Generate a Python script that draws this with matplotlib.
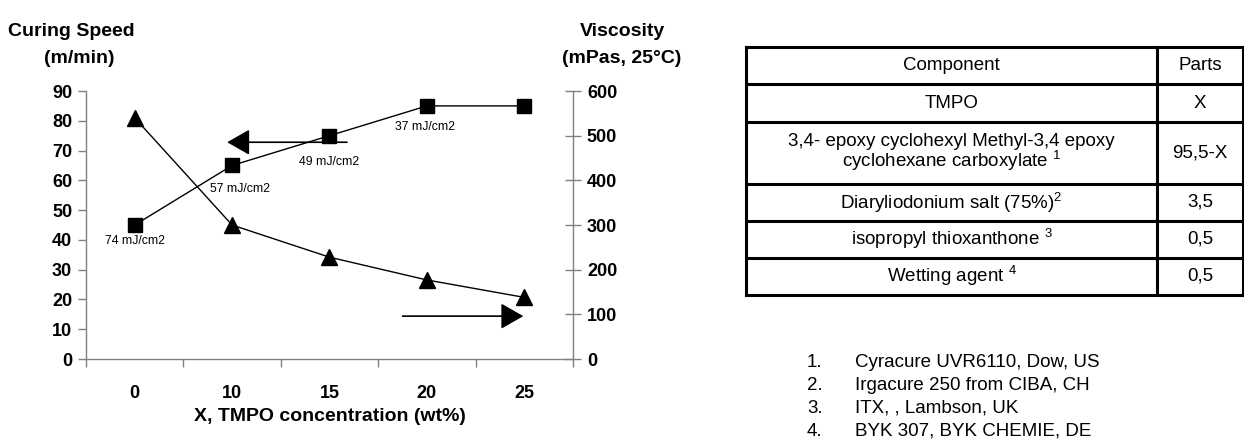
import matplotlib
matplotlib.use("Agg")
import matplotlib.pyplot as plt

plt.rcParams['font.family'] = ['Liberation Sans', 'DejaVu Sans']
plt.rcParams['mathtext.fontset'] = 'custom'
plt.rcParams['mathtext.rm'] = 'Liberation Sans'
plt.rcParams['mathtext.it'] = 'Liberation Sans:italic'
plt.rcParams['mathtext.bf'] = 'Liberation Sans:bold'

# data
categories = ['0', '10', '15', '20', '25']
curing_speed = [45, 65, 75, 85, 85]          # m/min, left axis
viscosity = [540, 300, 228, 177, 138]        # mPas, right axis
dose_labels = ['74 mJ/cm2', '57 mJ/cm2', '49 mJ/cm2', '37 mJ/cm2']
dose_label_pos = [(0.0, 39.5), (1.08, 57.0), (2.0, 66.0), (2.98, 78.0)]

table_header = ['Component', 'Parts']
table_components = ['TMPO',
                    '3,4- epoxy cyclohexyl Methyl-3,4 epoxy\ncyclohexane carboxylate $^1$',
                    'Diaryliodonium salt (75%)$^2$',
                    'isopropyl thioxanthone $^3$',
                    'Wetting agent $^4$']
table_parts = ['X', '95,5-X', '3,5', '0,5', '0,5']
row_heights = [1.0, 1.0, 1.65, 1.0, 0.97, 1.0]

footnotes = ['Cyracure UVR6110, Dow, US',
             'Irgacure 250 from CIBA, CH',
             'ITX, , Lambson, UK',
             'BYK 307, BYK CHEMIE, DE']

fig = plt.figure(figsize=(12.44, 4.44), dpi=100)

# ---------------- chart ----------------
ax = fig.add_axes([0.0691, 0.1914, 0.3915, 0.6036])
ax2 = ax.twinx()
x = range(len(categories))
ax.plot(x, curing_speed, color='black', lw=1.0, marker='s', ms=9.5, zorder=3)
ax2.plot(x, viscosity, color='black', lw=1.0, marker='^', ms=11, zorder=3)

ax.set_xlim(-0.5, len(categories) - 0.5)
ax.set_ylim(0, 90)
ax2.set_ylim(0, 600)
ax.set_yticks(range(0, 91, 10))
ax2.set_yticks(range(0, 601, 100))
ax.set_xticks(list(x))
ax.set_xticklabels(categories)
ax.set_xticks([i - 0.5 for i in range(len(categories) + 1)], minor=True)
ax.tick_params(axis='x', which='major', length=0, pad=19)
ax.tick_params(axis='x', which='minor', length=6, width=1, color='#808080', direction='out')
ax.tick_params(axis='y', length=6, width=1, color='#808080', direction='out', pad=4)
ax2.tick_params(axis='y', length=12, width=1, color='#808080', direction='inout', pad=4)
for a in (ax, ax2):
    for lab in a.get_xticklabels() + a.get_yticklabels():
        lab.set_fontsize(13)
        lab.set_fontweight('bold')
    a.spines['top'].set_visible(False)
    for s in ('left', 'right', 'bottom'):
        a.spines[s].set_color('#808080')
        a.spines[s].set_linewidth(1.0)
ax2.spines['left'].set_visible(False)
ax2.spines['bottom'].set_visible(False)
ax.spines['right'].set_visible(False)

ax.set_xlabel('X, TMPO concentration (wt%)', fontsize=14, fontweight='bold', labelpad=4)

for txt, (tx, ty) in zip(dose_labels, dose_label_pos):
    ax.text(tx, ty, txt, fontsize=8.8, ha='center', va='center')

# direction arrows
ax.annotate('', xy=(0.95, 72.8), xytext=(2.18, 72.8),
            arrowprops=dict(arrowstyle='-|>,head_length=1.4,head_width=0.8',
                            color='black', lw=1.2, shrinkA=0, shrinkB=0))
ax.annotate('', xy=(3.99, 14.4), xytext=(2.75, 14.4),
            arrowprops=dict(arrowstyle='-|>,head_length=1.4,head_width=0.8',
                            color='black', lw=1.2, shrinkA=0, shrinkB=0))

fig.text(0.0065, 0.93, 'Curing Speed', fontsize=14, fontweight='bold', ha='left', va='center')
fig.text(0.0635, 0.868, '(m/min)', fontsize=14, fontweight='bold', ha='center', va='center')
fig.text(0.500, 0.93, 'Viscosity', fontsize=14, fontweight='bold', ha='center', va='center')
fig.text(0.500, 0.868, '(mPas, 25°C)', fontsize=14, fontweight='bold', ha='center', va='center')

# ---------------- table ----------------
tax = fig.add_axes([746 / 1244, 149 / 444, 497 / 1244, 248 / 444])
total = sum(row_heights)
tax.set_xlim(0, 1)
tax.set_ylim(total, 0)
tax.axis('off')
col_split = (1157 - 746) / 497
edges = [0]
for h in row_heights:
    edges.append(edges[-1] + h)
for e in edges:
    tax.axhline(e, color='black', lw=2.2, clip_on=False)
for xv in (0, col_split, 1):
    tax.axvline(xv, color='black', lw=2.2, clip_on=False)

rows = [tuple(table_header)] + list(zip(table_components, table_parts))
for i, (comp, part) in enumerate(rows):
    yc = (edges[i] + edges[i + 1]) / 2
    tax.text(col_split / 2, yc, comp, fontsize=13.5, ha='center', va='center',
             linespacing=0.95)
    tax.text((col_split + 1) / 2, yc, part, fontsize=13.5, ha='center', va='center')

# ---------------- footnotes ----------------
for i, note in enumerate(footnotes):
    yy = (444 - 362 - 23 * i) / 444
    fig.text(807 / 1244, yy, f'{i + 1}.', fontsize=13.5, ha='left', va='center')
    fig.text(855 / 1244, yy, note, fontsize=13.5, ha='left', va='center')

fig.savefig('out.png', dpi=100)
